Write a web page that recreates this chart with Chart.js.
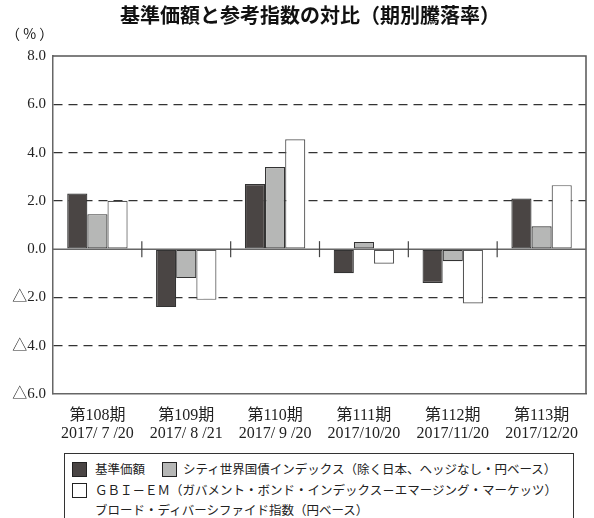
<!DOCTYPE html>
<html lang="ja">
<head>
<meta charset="utf-8">
<script src="https://cdn.jsdelivr.net/npm/chart.js@4/dist/chart.umd.min.js"></script>
<style>
  html, body { margin: 0; padding: 0; background: #fff; }
  #wrap { position: relative; width: 594px; height: 518px; overflow: hidden; }
  #chart { position: absolute; left: 0; top: 0; }
  #legend {
    position: absolute; left: 64px; top: 453px; width: 510px; height: 90px;
    border: 1px solid #333; box-sizing: border-box;
    font-family: 'Noto Sans CJK JP', sans-serif; font-size: 12.5px; color: #222;
  }
  .sw { position: absolute; width: 15px; height: 15px; border: 1px solid #222; box-sizing: border-box; }
  .lt { position: absolute; white-space: nowrap; line-height: 20px; }
</style>
</head>
<body>
<div id="wrap">
  <canvas id="chart" width="594" height="446"></canvas>
  <div id="legend"></div>
</div>
<script>
// 期別ラベル
const periods = ['第108期', '第109期', '第110期', '第111期', '第112期', '第113期'];
const dates = ['2017/ 7 /20', '2017/ 8 /21', '2017/ 9 /20', '2017/10/20', '2017/11/20', '2017/12/20'];

// 騰落率（%）
const fundReturns = [2.3, -2.4, 2.7, -1.0, -1.4, 2.1];
const wgbiReturns = [1.45, -1.2, 3.4, 0.3, -0.5, 0.95];
const gbiemReturns = [2.0, -2.1, 4.55, -0.6, -2.25, 2.65];

const seriesNames = [
  '基準価額',
  'シティ世界国債インデックス（除く日本、ヘッジなし・円ベース）',
  'ＧＢＩ－ＥＭ（ガバメント・ボンド・インデックス－エマージング・マーケッツ）',
];
const seriesNote = 'ブロード・ディバーシファイド指数（円ベース）';
const seriesColors = ['#4a4544', '#b6b7b6', '#ffffff'];

const yMin = -6, yMax = 8, yStep = 2;

// 凡例
const legend = document.getElementById('legend');
const legendItems = [
  { sw: [7, 8], tx: [30, 5] },
  { sw: [97, 8], tx: [118, 5] },
  { sw: [7, 29], tx: [30, 26] },
];
legendItems.forEach((it, i) => {
  const sw = document.createElement('div');
  sw.className = 'sw';
  sw.style.left = it.sw[0] + 'px';
  sw.style.top = it.sw[1] + 'px';
  sw.style.background = seriesColors[i];
  legend.appendChild(sw);
  const tx = document.createElement('div');
  tx.className = 'lt';
  tx.style.left = it.tx[0] + 'px';
  tx.style.top = it.tx[1] + 'px';
  tx.textContent = seriesNames[i];
  legend.appendChild(tx);
});
const note = document.createElement('div');
note.className = 'lt';
note.style.left = '30px';
note.style.top = '46px';
note.textContent = seriesNote;
legend.appendChild(note);

// タイトル・枠線・ゼロ線
const decor = {
  id: 'decor',
  afterDraw(chart) {
    const { ctx, chartArea: a, scales: { x, y } } = chart;
    ctx.save();
    ctx.fillStyle = '#111';
    ctx.textAlign = 'left';
    ctx.textBaseline = 'middle';
    ctx.font = 'bold 20px "Noto Sans CJK JP", sans-serif';
    ctx.fillText('基準価額と参考指数の対比（期別騰落率）', 120, 15);
    ctx.font = '14px "Noto Sans CJK JP", serif';
    ctx.fillText('（ % ）', 6, 34);

    ctx.strokeStyle = '#555';
    ctx.lineWidth = 1.5;
    ctx.beginPath();
    ctx.moveTo(a.left, a.top);
    ctx.lineTo(a.right, a.top);
    ctx.lineTo(a.right, a.bottom);
    ctx.stroke();

    const zy = y.getPixelForValue(0);
    ctx.strokeStyle = '#666';
    ctx.beginPath();
    ctx.moveTo(a.left, zy);
    ctx.lineTo(a.right, zy);
    ctx.stroke();

    ctx.strokeStyle = '#444';
    ctx.lineWidth = 1.2;
    for (let i = 0; i < periods.length - 1; i++) {
      const bx = (x.getPixelForValue(i) + x.getPixelForValue(i + 1)) / 2;
      ctx.beginPath();
      ctx.moveTo(bx, zy - 8);
      ctx.lineTo(bx, zy + 8);
      ctx.stroke();
    }
    ctx.restore();
  }
};

const barBase = { borderColor: '#333', borderWidth: 1.2, borderSkipped: false };

new Chart(document.getElementById('chart'), {
  type: 'bar',
  data: {
    labels: periods.map((p, i) => [p, dates[i]]),
    datasets: [
      { ...barBase, label: seriesNames[0], data: fundReturns, backgroundColor: seriesColors[0] },
      { ...barBase, label: seriesNames[1], data: wgbiReturns, backgroundColor: seriesColors[1] },
      { ...barBase, label: seriesNames[2], data: gbiemReturns, backgroundColor: seriesColors[2], borderColor: '#555' },
    ]
  },
  options: {
    responsive: false,
    animation: false,
    layout: { padding: { top: 56, right: 8, left: 0, bottom: 0 } },
    datasets: { bar: { categoryPercentage: 0.68, barPercentage: 1.0 } },
    plugins: { legend: { display: false }, tooltip: { enabled: false }, title: { display: false } },
    scales: {
      x: {
        grid: { display: false },
        border: { display: true, color: '#666', width: 1.5 },
        ticks: {
          color: '#222',
          padding: 5,
          maxRotation: 0,
          font: { family: "'Liberation Serif', 'Noto Sans CJK JP', serif", size: 16, lineHeight: 1.12 }
        },
        afterFit(scale) { scale.height = 52; }
      },
      y: {
        min: yMin,
        max: yMax,
        grid: {
          drawTicks: false,
          lineWidth: 1.2,
          color: (c) => {
            const v = c.tick && c.tick.value;
            return (v === 0 || v === yMin || v === yMax) ? 'rgba(0,0,0,0)' : '#333';
          }
        },
        border: { display: true, color: '#666', width: 1.5, dash: [9, 6] },
        ticks: {
          stepSize: yStep,
          color: '#222',
          padding: 7,
          font: { family: "'Liberation Serif', 'Noto Sans CJK JP', serif", size: 15 },
          callback: (v) => (v < 0 ? '△' + Math.abs(v).toFixed(1) : v.toFixed(1))
        },
        afterFit(scale) { scale.width = 53; }
      }
    }
  },
  plugins: [decor]
});
</script>
</body>
</html>
